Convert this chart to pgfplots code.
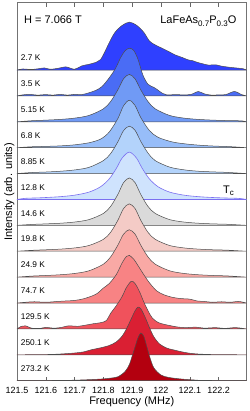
\documentclass[border=0pt]{standalone}
\usepackage{pgfplots}
\pgfplotsset{compat=1.18}
\usepackage{fontspec}
\setmainfont{Liberation Sans}
\definecolor{c1}{RGB}{47,64,255}
\definecolor{c2}{RGB}{74,108,245}
\definecolor{c3}{RGB}{112,154,245}
\definecolor{c4}{RGB}{151,189,249}
\definecolor{c5}{RGB}{179,211,251}
\definecolor{c6}{RGB}{207,227,253}
\definecolor{c6l}{RGB}{123,111,240}
\definecolor{c7}{RGB}{218,218,218}
\definecolor{c8}{RGB}{244,203,198}
\definecolor{c9}{RGB}{249,169,165}
\definecolor{c10}{RGB}{248,131,132}
\definecolor{c11}{RGB}{240,82,92}
\definecolor{c12}{RGB}{218,31,51}
\definecolor{c13}{RGB}{179,0,15}
\begin{document}
\begin{tikzpicture}
\begin{axis}[
  scale only axis, width=229.5pt, height=378pt,
  xmin=121.5, xmax=122.297, ymin=0, ymax=14.6,
  xtick={121.5,121.6,121.7,121.8,121.9,122,122.1,122.2},
  xticklabels={121.5,121.6,121.7,121.8,121.9,122,122.1,122.2},
  ytick=\empty,
  tick align=inside, major tick length=4pt,
  xtick pos=both,
  tick style={black!60, line width=0.5pt},
  axis line style={black!55, line width=0.6pt},
  y axis line style={line width=0.9pt},
  ticklabel style={font=\fontsize{9}{10}\selectfont},
  xticklabel style={yshift=-2.5pt},
  /pgf/number format/assume math mode=true,
  xlabel={Frequency (MHz)},
  ylabel={Intensity (arb. units)},
  label style={font=\fontsize{11}{12}\selectfont},
  xlabel style={yshift=3.5pt},
  ylabel style={at={(axis description cs:-0.01,0.5)}, anchor=south, inner sep=0pt},
  clip=true,
  every axis plot/.append style={smooth, tension=0.5, line width=0.5pt, draw=black!70},
]
% 2.7 K
\addplot[fill=c1] table[y expr=\thisrowno{1}+12]{
121.500 0
121.52 0.04
121.55 0.02
121.575 0.05
121.595 0.08
121.615 0.03
121.64 0.06
121.67 0.12
121.70 0.03
121.725 0.16
121.75 0.22
121.775 0.30
121.79 0.40
121.805 0.70
121.82 1.05
121.84 1.45
121.865 1.72
121.89 1.85
121.915 1.73
121.94 1.46
121.96 1.12
121.98 0.97
122.015 0.78
122.05 0.58
122.07 0.50
122.095 0.39
122.11 0.36
122.125 0.30
122.145 0.24
122.165 0.19
122.19 0.20
122.21 0.15
122.235 0.11
122.26 0.08
122.285 0.05
122.297 0
} -- cycle;
% 3.5 K
\addplot[fill=c2] table[y expr=\thisrowno{1}+11]{
121.500 0
121.52 0.04
121.545 0.06
121.57 0.03
121.60 0.05
121.625 0.03
121.65 0.06
121.675 0.03
121.70 0.06
121.725 0.05
121.75 0.12
121.775 0.22
121.795 0.36
121.815 0.62
121.84 1.02
121.86 1.48
121.875 1.74
121.89 1.84
121.905 1.76
121.92 1.42
121.937 0.81
121.955 0.45
121.975 0.33
121.99 0.22
122.005 0.10
122.02 0.04
122.05 0.05
122.08 0.04
122.105 0.06
122.13 0.17
122.15 0.08
122.175 0.03
122.20 0.04
122.225 0.05
122.255 0.17
122.28 0.05
122.297 0
} -- cycle;
% 5.15 K
\addplot[fill=c3] table[y expr=\thisrowno{1}+10]{
121.50 0
121.55 0.04
121.60 0.064
121.65 0.092
121.70 0.142
121.75 0.245
121.80 0.50
121.825 0.78
121.85 1.23
121.87 1.66
121.89 1.83
121.91 1.66
121.93 1.23
121.955 0.78
121.98 0.50
122.03 0.245
122.08 0.142
122.13 0.092
122.18 0.064
122.23 0.047
122.28 0.036
122.297 0
} -- cycle;
% 6.8 K
\addplot[fill=c4] table[y expr=\thisrowno{1}+9]{
121.50 0
121.55 0.035
121.60 0.05
121.65 0.07
121.70 0.11
121.75 0.19
121.79 0.33
121.82 0.60
121.85 1.12
121.87 1.62
121.89 1.83
121.91 1.63
121.93 1.16
121.96 0.66
121.99 0.40
122.04 0.22
122.09 0.14
122.14 0.09
122.19 0.06
122.24 0.04
122.297 0
} -- cycle;
% 8.85 K
\addplot[fill=c5] table[y expr=\thisrowno{1}+8]{
121.50 0
121.55 0.04
121.60 0.06
121.65 0.09
121.70 0.14
121.75 0.24
121.80 0.50
121.825 0.77
121.85 1.22
121.87 1.66
121.89 1.83
121.91 1.67
121.93 1.24
121.955 0.79
121.98 0.50
122.03 0.25
122.08 0.145
122.13 0.09
122.18 0.065
122.23 0.045
122.297 0
} -- cycle;
% 12.8 K
\addplot[fill=c6, draw=c6l, line width=0.6pt] table[y expr=\thisrowno{1}+7]{
121.50 0
121.53 0.045
121.57 0.06
121.60 0.075
121.65 0.108
121.70 0.166
121.75 0.284
121.79 0.49
121.82 0.79
121.845 1.20
121.865 1.60
121.89 1.83
121.915 1.60
121.935 1.20
121.96 0.79
121.99 0.49
122.03 0.284
122.08 0.166
122.13 0.108
122.18 0.075
122.23 0.055
122.27 0.042
122.297 0
} -- cycle;
% 14.6 K
\addplot[fill=c7] table[y expr=\thisrowno{1}+6]{
121.50 0
121.55 0.035
121.60 0.057
121.65 0.082
121.70 0.128
121.75 0.222
121.80 0.46
121.825 0.73
121.85 1.19
121.87 1.65
121.89 1.83
121.91 1.65
121.93 1.19
121.955 0.73
121.98 0.46
122.03 0.222
122.08 0.128
122.13 0.082
122.18 0.057
122.23 0.042
122.297 0
} -- cycle;
% 19.8 K
\addplot[fill=c8] table[y expr=\thisrowno{1}+5]{
121.50 0
121.55 0.035
121.60 0.057
121.65 0.082
121.70 0.128
121.75 0.222
121.80 0.46
121.825 0.73
121.85 1.19
121.87 1.65
121.89 1.83
121.91 1.65
121.93 1.19
121.955 0.73
121.98 0.46
122.03 0.222
122.08 0.128
122.13 0.082
122.18 0.057
122.23 0.042
122.297 0
} -- cycle;
% 24.9 K
\addplot[fill=c9] table[y expr=\thisrowno{1}+4]{
121.50 0
121.55 0.04
121.60 0.064
121.65 0.092
121.70 0.142
121.75 0.245
121.80 0.50
121.825 0.78
121.85 1.23
121.87 1.66
121.89 1.83
121.91 1.66
121.93 1.23
121.955 0.78
121.98 0.50
122.03 0.245
122.08 0.142
122.13 0.092
122.18 0.064
122.23 0.047
122.297 0
} -- cycle;
% 74.7 K
\addplot[fill=c10] table[y expr=\thisrowno{1}+3]{
121.50 0
121.53 0.03
121.56 0.05
121.60 0.03
121.64 0.06
121.67 0.08
121.70 0.10
121.73 0.16
121.76 0.27
121.78 0.38
121.80 0.58
121.82 0.75
121.845 1.10
121.865 1.55
121.88 1.80
121.89 1.84
121.905 1.70
121.92 1.45
121.94 1.10
121.96 0.78
121.985 0.47
122.01 0.32
122.04 0.22
122.07 0.17
122.10 0.15
122.125 0.08
122.15 0.06
122.18 0.03
122.21 0.05
122.24 0.03
122.27 0.06
122.297 0
} -- cycle;
% 129.5 K
\addplot[fill=c11] table[y expr=\thisrowno{1}+2]{
121.50 0
121.515 0.10
121.53 0.12
121.55 0.03
121.58 0.02
121.60 0.06
121.625 0.03
121.65 0.05
121.68 0.12
121.71 0.10
121.74 0.15
121.765 0.20
121.79 0.24
121.81 0.32
121.825 0.60
121.845 0.90
121.865 1.25
121.88 1.60
121.897 1.84
121.91 1.75
121.925 1.45
121.94 1.05
121.955 0.70
121.97 0.42
121.99 0.25
122.01 0.18
122.035 0.12
122.06 0.07
122.09 0.05
122.12 0.07
122.15 0.03
122.19 0.05
122.22 0.02
122.26 0.05
122.297 0
} -- cycle;
% 250.1 K
\addplot[fill=c12] table[y expr=\thisrowno{1}+1]{
121.50 0
121.60 0.01
121.65 0.03
121.70 0.07
121.73 0.11
121.76 0.20
121.79 0.27
121.82 0.36
121.845 0.50
121.865 0.72
121.88 1.00
121.895 1.35
121.91 1.70
121.92 1.84
121.93 1.78
121.945 1.45
121.96 1.05
121.975 0.70
121.995 0.42
122.02 0.26
122.04 0.20
122.07 0.12
122.10 0.06
122.13 0.03
122.18 0.01
122.297 0
} -- cycle;
% 273.2 K
\addplot[fill=c13] table[y expr=\thisrowno{1}]{
121.50 0
121.65 0.01
121.70 0.02
121.75 0.04
121.80 0.07
121.825 0.10
121.85 0.15
121.875 0.35
121.89 0.62
121.90 0.95
121.91 1.30
121.92 1.65
121.93 1.84
121.94 1.72
121.95 1.35
121.96 0.95
121.975 0.50
122.00 0.22
122.025 0.13
122.05 0.09
122.075 0.06
122.10 0.04
122.125 0.02
122.15 0.01
122.297 0
} -- cycle;
% labels
\begin{scope}[every node/.style={anchor=base west, inner sep=0pt, font=\fontsize{8.3}{9}\selectfont}]
\node at (axis cs:121.513,12.36) {2.7 K};
\node at (axis cs:121.513,11.36) {3.5 K};
\node at (axis cs:121.513,10.36) {5.15 K};
\node at (axis cs:121.513,9.36) {6.8 K};
\node at (axis cs:121.513,8.36) {8.85 K};
\node at (axis cs:121.513,7.36) {12.8 K};
\node at (axis cs:121.513,6.36) {14.6 K};
\node at (axis cs:121.513,5.36) {19.8 K};
\node at (axis cs:121.513,4.36) {24.9 K};
\node at (axis cs:121.513,3.36) {74.7 K};
\node at (axis cs:121.513,2.36) {129.5 K};
\node at (axis cs:121.513,1.36) {250.1 K};
\node at (axis cs:121.513,0.36) {273.2 K};
\end{scope}
\node[anchor=base west, inner sep=0pt, font=\fontsize{11}{12}\selectfont] at (axis cs:121.524,13.78) {H = 7.066 T};
\node[anchor=base west, inner sep=0pt, font=\fontsize{11}{12}\selectfont] at (axis cs:121.997,13.78) {LaFeAs\raisebox{-0.45ex}{\fontsize{8}{9}\selectfont 0.7}P\raisebox{-0.45ex}{\fontsize{8}{9}\selectfont 0.3}O};
\node[anchor=base west, inner sep=0pt, font=\fontsize{11}{12}\selectfont] at (axis cs:122.215,7.23) {T\raisebox{-0.4ex}{\fontsize{8}{9}\selectfont c}};
\end{axis}
\pgfresetboundingbox
\path ([shift={(-17pt,-30.3pt)}]current axis.south west) rectangle ([shift={(2.5pt,2.7pt)}]current axis.north east);
\end{tikzpicture}
\end{document}
